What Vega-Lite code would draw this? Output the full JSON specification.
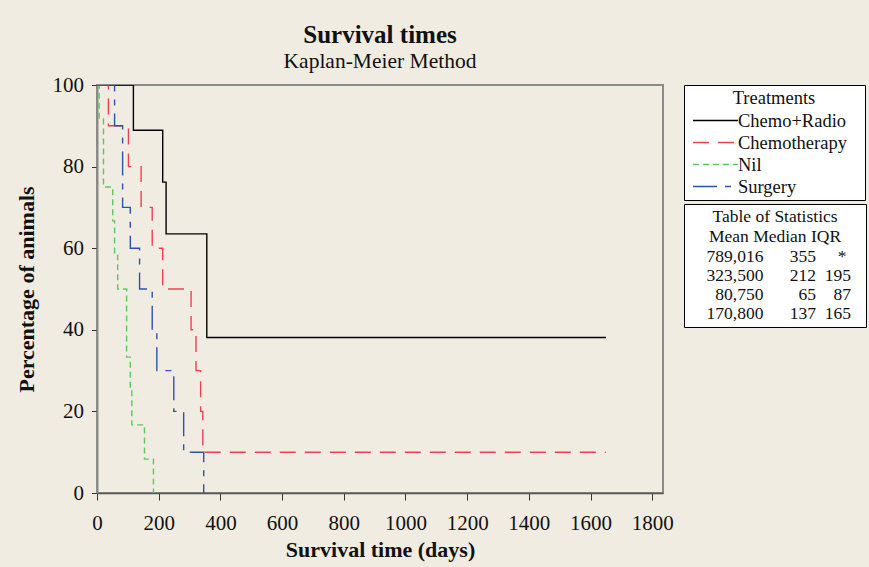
{
  "$schema": "https://vega.github.io/schema/vega-lite/v6.json",
  "width": 566,
  "height": 408,
  "autosize": {"type": "none"},
  "padding": {"left": 97, "top": 85, "right": 206, "bottom": 74},
  "background": "#f0ece2",
  "title": {
    "text": "Survival times",
    "subtitle": "Kaplan-Meier Method",
    "anchor": "middle",
    "font": "Liberation Serif",
    "fontSize": 25,
    "fontWeight": "bold",
    "color": "#111",
    "subtitleFont": "Liberation Serif",
    "subtitleFontSize": 21.5,
    "subtitleColor": "#111",
    "subtitlePadding": 3,
    "offset": 2
  },
  "datasets": {
    "km": [
      {"treatment": "Chemo+Radio", "day": 0, "pct": 100},
      {"treatment": "Chemo+Radio", "day": 118, "pct": 88.9},
      {"treatment": "Chemo+Radio", "day": 213, "pct": 76.2},
      {"treatment": "Chemo+Radio", "day": 224, "pct": 63.5},
      {"treatment": "Chemo+Radio", "day": 356, "pct": 38.1},
      {"treatment": "Chemo+Radio", "day": 1650, "pct": 38.1},
      {"treatment": "Chemotherapy", "day": 0, "pct": 100},
      {"treatment": "Chemotherapy", "day": 37, "pct": 90},
      {"treatment": "Chemotherapy", "day": 102, "pct": 80},
      {"treatment": "Chemotherapy", "day": 143, "pct": 70},
      {"treatment": "Chemotherapy", "day": 179, "pct": 60},
      {"treatment": "Chemotherapy", "day": 213, "pct": 50},
      {"treatment": "Chemotherapy", "day": 305, "pct": 40},
      {"treatment": "Chemotherapy", "day": 321, "pct": 30},
      {"treatment": "Chemotherapy", "day": 336, "pct": 20},
      {"treatment": "Chemotherapy", "day": 343, "pct": 10},
      {"treatment": "Chemotherapy", "day": 1650, "pct": 10},
      {"treatment": "Nil", "day": 0, "pct": 100},
      {"treatment": "Nil", "day": 7, "pct": 91.7},
      {"treatment": "Nil", "day": 21, "pct": 75},
      {"treatment": "Nil", "day": 51, "pct": 66.7},
      {"treatment": "Nil", "day": 57, "pct": 58.3},
      {"treatment": "Nil", "day": 67, "pct": 50},
      {"treatment": "Nil", "day": 96, "pct": 33.3},
      {"treatment": "Nil", "day": 108, "pct": 25},
      {"treatment": "Nil", "day": 113, "pct": 16.7},
      {"treatment": "Nil", "day": 154, "pct": 8.3},
      {"treatment": "Nil", "day": 183, "pct": 0},
      {"treatment": "Surgery", "day": 0, "pct": 100},
      {"treatment": "Surgery", "day": 57, "pct": 90},
      {"treatment": "Surgery", "day": 83, "pct": 70},
      {"treatment": "Surgery", "day": 108, "pct": 60},
      {"treatment": "Surgery", "day": 138, "pct": 50},
      {"treatment": "Surgery", "day": 179, "pct": 40},
      {"treatment": "Surgery", "day": 194, "pct": 30},
      {"treatment": "Surgery", "day": 249, "pct": 20},
      {"treatment": "Surgery", "day": 281, "pct": 10},
      {"treatment": "Surgery", "day": 346, "pct": 0}
    ],
    "stats": [
      {"row": "789,016\u00a0\u00a0\u00a0\u00a0\u00a0\u00a0355\u00a0\u00a0\u00a0\u00a0\u00a0*"},
      {"row": "323,500\u00a0\u00a0\u00a0\u00a0\u00a0\u00a0212\u00a0\u00a0195"},
      {"row": "\u200b\u00a0\u00a080,750\u00a0\u00a0\u00a0\u00a0\u00a0\u00a0\u00a0\u00a065\u00a0\u00a0\u00a0\u00a087"},
      {"row": "170,800\u00a0\u00a0\u00a0\u00a0\u00a0\u00a0137\u00a0\u00a0165"}
    ]
  },
  "layer": [
    {
      "data": {"name": "km"},
      "mark": {"type": "line", "interpolate": "step-after", "strokeWidth": 1.4, "clip": true},
      "encoding": {
        "x": {
          "field": "day",
          "type": "quantitative",
          "title": "Survival time (days)",
          "scale": {"domain": [0, 1835], "nice": false, "zero": false},
          "axis": {
            "values": [0, 200, 400, 600, 800, 1000, 1200, 1400, 1600, 1800],
            "format": "d",
            "tickSize": 7,
            "labelPadding": 12,
            "titlePadding": 6,
            "domainWidth": 1.5,
            "labelFlush": false
          }
        },
        "y": {
          "field": "pct",
          "type": "quantitative",
          "title": "Percentage of animals",
          "scale": {"domain": [0, 100], "nice": false},
          "axis": {
            "values": [0, 20, 40, 60, 80, 100],
            "format": "d",
            "tickSize": 5.5,
            "labelPadding": 8,
            "titlePadding": 14,
            "domainColor": "#8a8a8a",
            "domainWidth": 2,
            "labelFlush": false
          }
        },
        "color": {
          "field": "treatment",
          "type": "nominal",
          "title": "Treatments",
          "scale": {
            "domain": ["Chemo+Radio", "Chemotherapy", "Nil", "Surgery"],
            "range": ["#000000", "#ef4050", "#5cc85c", "#3050b0"]
          },
          "legend": {
            "orient": "none",
            "legendX": 587,
            "legendY": 0,
            "titleFont": "Liberation Serif",
            "titleFontSize": 18.5,
            "titleFontWeight": "normal",
            "titleColor": "#111",
            "titleAnchor": "middle",
            "titlePadding": 3,
            "labelFont": "Liberation Serif",
            "labelFontSize": 18.5,
            "labelColor": "#111",
            "labelOffset": 30,
            "labelLimit": 300,
            "labelExpr": "datum.label + '\u00a0\u00a0\u00a0\u200b'",
            "symbolType": "M-0.556,0H4.444",
            "symbolSize": 324,
            "symbolStrokeWidth": 1.3,
            "padding": 4,
            "rowPadding": 2,
            "strokeColor": "#000",
            "fillColor": "white"
          }
        },
        "strokeDash": {
          "field": "treatment",
          "type": "nominal",
          "title": "Treatments",
          "scale": {
            "domain": ["Chemo+Radio", "Chemotherapy", "Nil", "Surgery"],
            "range": [[1, 0], [16, 9], [6, 4], [24, 8, 6, 8]]
          },
          "legend": {
            "orient": "none",
            "legendX": 587,
            "legendY": 0,
            "titleFont": "Liberation Serif",
            "titleFontSize": 18.5,
            "titleFontWeight": "normal",
            "titleColor": "#111",
            "titleAnchor": "middle",
            "titlePadding": 3,
            "labelFont": "Liberation Serif",
            "labelFontSize": 18.5,
            "labelColor": "#111",
            "labelOffset": 30,
            "labelLimit": 300,
            "labelExpr": "datum.label + '\u00a0\u00a0\u00a0\u200b'",
            "symbolType": "M-0.556,0H4.444",
            "symbolSize": 324,
            "symbolStrokeWidth": 1.3,
            "padding": 4,
            "rowPadding": 2,
            "strokeColor": "#000",
            "fillColor": "white"
          }
        }
      }
    },
    {
      "data": {"name": "stats"},
      "mark": {"type": "point", "opacity": 0},
      "encoding": {
        "shape": {
          "field": "row",
          "type": "nominal",
          "sort": null,
          "title": ["Table of Statistics", "Mean Median IQR"],
          "legend": {
            "orient": "none",
            "legendX": 587,
            "legendY": 119,
            "titleFont": "Liberation Serif",
            "titleFontSize": 17.5,
            "titleFontWeight": "normal",
            "titleColor": "#111",
            "titleAnchor": "middle",
            "titleLineHeight": 20,
            "titlePadding": 3,
            "labelFont": "Liberation Serif",
            "labelFontSize": 17.5,
            "labelColor": "#111",
            "labelOffset": -163,
            "labelLimit": 300,
            "symbolSize": 1,
            "symbolOffset": 164,
            "symbolOpacity": 0,
            "symbolStrokeWidth": 0,
            "padding": 4,
            "rowPadding": 0,
            "strokeColor": "#000",
            "fillColor": "white"
          }
        }
      }
    }
  ],
  "config": {
    "font": "Liberation Serif",
    "view": {"stroke": "#8a8a8a", "strokeWidth": 2, "fill": "white"},
    "axis": {
      "grid": false,
      "labelFont": "Liberation Serif",
      "labelFontSize": 21,
      "labelColor": "#111",
      "titleFont": "Liberation Serif",
      "titleFontSize": 22,
      "titleFontWeight": "bold",
      "titleColor": "#111",
      "tickColor": "#333",
      "domainColor": "#555"
    }
  }
}
